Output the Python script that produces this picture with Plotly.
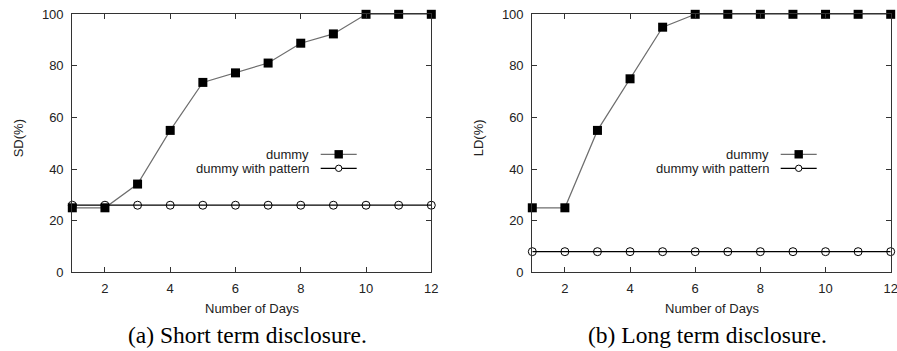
import plotly.graph_objects as go

# ---- data ----
days = [1, 2, 3, 4, 5, 6, 7, 8, 9, 10, 11, 12]
sd_dummy = [25, 25, 34.2, 55, 73.6, 77.3, 81.1, 88.8, 92.4, 100, 100, 100]
sd_pattern = [26, 26, 26, 26, 26, 26, 26, 26, 26, 26, 26, 26]
ld_dummy = [25, 25, 55, 75, 95, 100, 100, 100, 100, 100, 100, 100]
ld_pattern = [8, 8, 8, 8, 8, 8, 8, 8, 8, 8, 8, 8]
y_ticks = [0, 20, 40, 60, 80, 100]
x_ticks = [2, 4, 6, 8, 10, 12]
series_names = ["dummy", "dummy with pattern"]
y_titles = ["SD(%)", "LD(%)"]
captions = ["(a) Short term disclosure.", "(b) Long term disclosure."]

W, H = 897, 351
SANS = "Liberation Sans, Arial, sans-serif"
SERIF = "Liberation Serif, Times New Roman, serif"
TXT = "#222222"

def px(x):
    return x / W

def py(y):
    return 1 - y / H

# plot areas in pixels
areas = [(72.3, 431.3), (532.3, 890.7)]
top_px, bot_px = 14.3, 272.3

fig = go.Figure()

panels = [(sd_dummy, sd_pattern), (ld_dummy, ld_pattern)]
for i, (dm, pt) in enumerate(panels):
    xa = "x" if i == 0 else "x2"
    ya = "y" if i == 0 else "y2"
    fig.add_trace(go.Scatter(
        x=days, y=dm, mode="lines+markers", name=series_names[0],
        xaxis=xa, yaxis=ya, cliponaxis=False, showlegend=False,
        line=dict(color="#6e6e6e", width=1.2),
        marker=dict(symbol="square", size=9, color="black", line=dict(width=0)),
    ))
    fig.add_trace(go.Scatter(
        x=days, y=pt, mode="lines+markers", name=series_names[1],
        xaxis=xa, yaxis=ya, cliponaxis=False, showlegend=False,
        line=dict(color="black", width=1.2),
        marker=dict(symbol="circle-open", size=8, color="black", line=dict(width=1)),
    ))

axis_common = dict(
    showgrid=False, zeroline=False, showline=True, linecolor="#333333", linewidth=1.2,
    mirror="allticks", ticks="inside", ticklen=5, tickcolor="#333333", tickwidth=1,
    tickfont=dict(family=SANS, size=13, color=TXT), automargin=False,
    ticklabeloverflow="allow",
)

for i, (x0, x1) in enumerate(areas):
    sfx = "" if i == 0 else "2"
    fig.update_layout(**{
        f"xaxis{sfx}": dict(
            domain=[px(x0), px(x1)], range=[1, 12], tickvals=x_ticks,
            anchor=f"y{sfx}", ticklabelstandoff=4, **axis_common),
        f"yaxis{sfx}": dict(
            domain=[py(bot_px), py(top_px)], range=[0, 100], tickvals=y_ticks,
            anchor=f"x{sfx}", ticklabelstandoff=5, **axis_common),
    })

annotations = []
shapes = []
for i, (x0, x1) in enumerate(areas):
    cx = (x0 + x1) / 2
    # x title
    annotations.append(dict(
        x=px(cx), y=py(308), xref="paper", yref="paper", text="Number of Days",
        showarrow=False, xanchor="center", yanchor="middle",
        font=dict(family=SANS, size=13, color=TXT)))
    # y title
    annotations.append(dict(
        x=px(x0 - 53), y=py(138), xref="paper", yref="paper", text=y_titles[i],
        showarrow=False, xanchor="center", yanchor="middle", textangle=-90,
        font=dict(family=SANS, size=13, color=TXT)))
    # caption
    annotations.append(dict(
        x=px(cx - 4), y=py(335), xref="paper", yref="paper", text=captions[i],
        showarrow=False, xanchor="center", yanchor="middle",
        font=dict(family=SERIF, size=23.5, color="black")))
    # legend (gnuplot style: text right-aligned, key sample on the right)
    tx = x0 + 238.4
    k0, k1 = tx + 10, tx + 46
    km = (k0 + k1) / 2
    for j, (yy, name) in enumerate([(154.3, series_names[0]), (168.3, series_names[1])]):
        annotations.append(dict(
            x=px(tx), y=py(yy), xref="paper", yref="paper", text=name,
            showarrow=False, xanchor="right", yanchor="middle",
            font=dict(family=SANS, size=13, color=TXT)))
        shapes.append(dict(
            type="line", xref="paper", yref="paper",
            x0=px(k0), x1=px(k1), y0=py(yy), y1=py(yy),
            line=dict(color="#6e6e6e" if j == 0 else "black", width=1.2)))
    # legend key markers
    s = 4.2
    shapes.append(dict(type="rect", xref="paper", yref="paper",
                       x0=px(km - s), x1=px(km + s), y0=py(154.3 + s), y1=py(154.3 - s),
                       fillcolor="black", line=dict(width=0)))
    r = 3.2
    shapes.append(dict(type="circle", xref="paper", yref="paper",
                       x0=px(km - r), x1=px(km + r), y0=py(168.3 + r), y1=py(168.3 - r),
                       fillcolor="white", line=dict(color="black", width=1)))

fig.update_layout(
    width=W, height=H, margin=dict(l=0, r=0, t=0, b=0),
    paper_bgcolor="white", plot_bgcolor="white",
    annotations=annotations, shapes=shapes, showlegend=False,
)

fig.write_html(
    "out.html",
    config={"displayModeBar": False},
    post_script="document.body.style.margin='0';document.body.style.overflow='hidden';",
)
